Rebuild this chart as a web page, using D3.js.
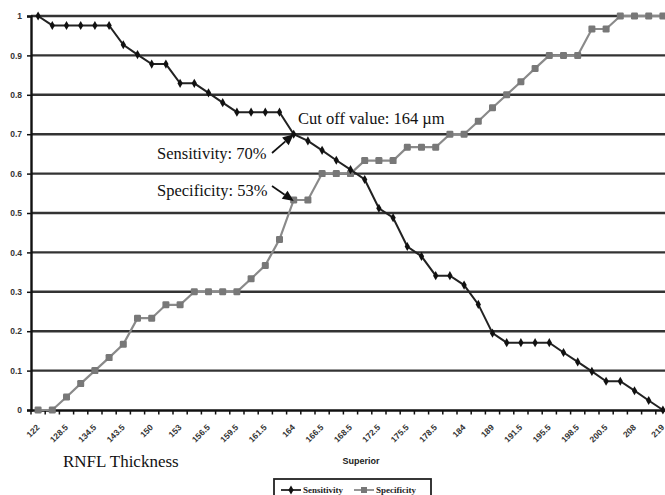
<!DOCTYPE html>
<html>
<head>
<meta charset="utf-8">
<script src="https://cdn.jsdelivr.net/npm/d3@7"></script>
<style>
  html, body { margin: 0; padding: 0; background: #fff; }
  svg { display: block; }
</style>
</head>
<body>
<svg id="chart" width="665" height="495"></svg>
<script>
// RNFL thickness cut-off values (µm), superior quadrant
const categories = ["122","125","128.5","131","134.5","139","143.5","146.5","150","151.5",
  "153","155","156.5","158","159.5","160.5","161.5","163","164","165",
  "166.5","167.5","168.5","170.5","172.5","174","175.5","177","178.5","181",
  "184","186.5","189","190","191.5","193.5","195.5","197","198.5","199.5",
  "200.5","204","208","213.5","219"];
const sensitivity = [1.000,0.976,0.976,0.976,0.976,0.976,0.927,0.902,0.878,0.878,
  0.829,0.829,0.805,0.780,0.756,0.756,0.756,0.756,0.700,0.683,
  0.659,0.634,0.610,0.585,0.512,0.488,0.415,0.390,0.341,0.341,
  0.317,0.268,0.195,0.171,0.171,0.171,0.171,0.146,0.122,0.098,
  0.073,0.073,0.049,0.024,0.000];
const specificity = [0.000,0.000,0.033,0.067,0.100,0.133,0.167,0.233,0.233,0.267,
  0.267,0.300,0.300,0.300,0.300,0.333,0.367,0.433,0.533,0.533,
  0.600,0.600,0.600,0.633,0.633,0.633,0.667,0.667,0.667,0.700,
  0.700,0.733,0.767,0.800,0.833,0.867,0.900,0.900,0.900,0.967,
  0.967,1.000,1.000,1.000,1.000];
const yTicks = [0,0.1,0.2,0.3,0.4,0.5,0.6,0.7,0.8,0.9,1];
const yTickLabels = ["0","0.1","0.2","0.3","0.4","0.5","0.6","0.7","0.8","0.9","1"];
const cutoffCategory = "164";
const annotations = ["Cut off value: 164 µm", "Sensitivity: 70%", "Specificity: 53%"];
const seriesNames = ["Sensitivity", "Specificity"];
const xTitle = "Superior";
const leftTitle = "RNFL Thickness";

const svg = d3.select("#chart");
const x = d3.scaleBand().domain(categories).range([31, 670]).paddingInner(0).paddingOuter(0);
const y = d3.scaleLinear().domain([0, 1]).range([410, 16]);
const cx = c => x(c) + x.bandwidth() / 2;

// gridlines
svg.append("g").selectAll("line").data(yTicks.filter(d => d > 0)).join("line")
  .attr("x1", 31).attr("x2", 665)
  .attr("y1", d => y(d)).attr("y2", d => y(d))
  .attr("stroke", "#333").attr("stroke-width", 2.4);

// y axis
const yAxis = d3.axisLeft(y).tickValues(yTicks).tickSize(4).tickPadding(5)
  .tickFormat((d, i) => yTickLabels[i]);
const gy = svg.append("g").attr("transform", "translate(31,0)").call(yAxis);
gy.select(".domain").attr("stroke", "#111").attr("stroke-width", 2.4);
gy.selectAll(".tick line").attr("stroke", "#111").attr("stroke-width", 1.5);
gy.selectAll(".tick text").attr("font-family", "Liberation Sans, Arial, sans-serif")
  .attr("font-weight", "bold").attr("font-size", 8.5).attr("fill", "#333");

// x axis labels (every other category)
const xAxis = d3.axisBottom(x).tickValues(categories.filter((d, i) => i % 2 === 0))
  .tickSize(0).tickPadding(0);
const gx = svg.append("g").attr("transform", "translate(0,410)").call(xAxis);
gx.select(".domain").attr("stroke", "#111").attr("stroke-width", 2.4);
gx.selectAll(".tick text")
  .attr("font-family", "Liberation Sans, Arial, sans-serif").attr("font-weight", "bold")
  .attr("font-size", 8.5).attr("fill", "#333")
  .attr("text-anchor", "end").attr("dy", null).attr("y", 0)
  .attr("transform", "translate(2,18) rotate(-45)");

// x ticks at category boundaries
svg.append("g").selectAll("line").data(categories.concat(["__end"])).join("line")
  .attr("x1", (d, i) => 31 + i * x.bandwidth()).attr("x2", (d, i) => 31 + i * x.bandwidth())
  .attr("y1", 410).attr("y2", 414.5)
  .attr("stroke", "#111").attr("stroke-width", 1.5);

// series
const line = d3.line().x(d => cx(d.c)).y(d => y(d.v));
const sensData = categories.map((c, i) => ({c, v: sensitivity[i]}));
const specData = categories.map((c, i) => ({c, v: specificity[i]}));

svg.append("path").datum(specData).attr("d", line)
  .attr("fill", "none").attr("stroke", "#8a8a8a").attr("stroke-width", 2.2);
svg.append("g").selectAll("rect").data(specData).join("rect")
  .attr("x", d => cx(d.c) - 3.5).attr("y", d => y(d.v) - 3.5).attr("rx", 1.2)
  .attr("width", 7).attr("height", 7).attr("fill", "#787878");

svg.append("path").datum(sensData).attr("d", line)
  .attr("fill", "none").attr("stroke", "#222").attr("stroke-width", 2);
const diamond = d3.symbol().type(d3.symbolDiamond).size(24);
svg.append("g").selectAll("path").data(sensData).join("path")
  .attr("d", diamond).attr("transform", d => `translate(${cx(d.c)},${y(d.v)})`)
  .attr("fill", "#111");

// annotations
const serif = "Liberation Serif, Times New Roman, serif";
svg.append("text").attr("x", 298).attr("y", 124).text(annotations[0])
  .attr("font-family", serif).attr("font-size", 16.5).attr("fill", "#111");
svg.append("text").attr("x", 157).attr("y", 159).text(annotations[1])
  .attr("font-family", serif).attr("font-size", 16.5).attr("fill", "#111");
svg.append("text").attr("x", 157).attr("y", 196).text(annotations[2])
  .attr("font-family", serif).attr("font-size", 16.5).attr("fill", "#111");

function arrow(x1, y1, x2, y2) {
  const ang = Math.atan2(y2 - y1, x2 - x1);
  const L = 11, W = 5;
  const bx = x2 - L * Math.cos(ang), by = y2 - L * Math.sin(ang);
  svg.append("line").attr("x1", x1).attr("y1", y1).attr("x2", bx).attr("y2", by)
    .attr("stroke", "#111").attr("stroke-width", 1.7);
  const px = -Math.sin(ang) * W, py = Math.cos(ang) * W;
  svg.append("path").attr("d", `M${x2},${y2}L${bx + px},${by + py}L${bx - px},${by - py}Z`)
    .attr("fill", "#111");
}
const ci = categories.indexOf(cutoffCategory);
arrow(272, 153, cx(cutoffCategory), y(sensitivity[ci]));
arrow(272, 186, cx(cutoffCategory), y(specificity[ci]) + 1);

// titles
svg.append("text").attr("x", 63).attr("y", 467).text(leftTitle)
  .attr("font-family", serif).attr("font-size", 17).attr("fill", "#111");
svg.append("text").attr("x", 361).attr("y", 464).attr("text-anchor", "middle").text(xTitle)
  .attr("font-family", "Liberation Sans, Arial, sans-serif").attr("font-weight", "bold")
  .attr("font-size", 9).attr("fill", "#222");

// legend
const lg = svg.append("g");
lg.append("rect").attr("x", 274).attr("y", 479).attr("width", 157).attr("height", 20)
  .attr("fill", "#fff").attr("stroke", "#222").attr("stroke-width", 1.8);
const legendItems = [
  {name: seriesNames[0], x0: 281, color: "#222", mark: "diamond"},
  {name: seriesNames[1], x0: 354, color: "#8a8a8a", mark: "square"}
];
legendItems.forEach(it => {
  lg.append("line").attr("x1", it.x0).attr("x2", it.x0 + 20).attr("y1", 490).attr("y2", 490)
    .attr("stroke", it.color).attr("stroke-width", 1.8);
  if (it.mark === "diamond") {
    lg.append("path").attr("d", diamond).attr("transform", `translate(${it.x0 + 10},490)`).attr("fill", "#111");
  } else {
    lg.append("rect").attr("x", it.x0 + 7).attr("y", 487).attr("width", 6).attr("height", 6).attr("fill", "#787878");
  }
  lg.append("text").attr("x", it.x0 + 22).attr("y", 493).text(it.name)
    .attr("font-family", "Liberation Serif, serif").attr("font-weight", "bold")
    .attr("font-size", 9).attr("fill", "#222");
});
</script>
</body>
</html>
